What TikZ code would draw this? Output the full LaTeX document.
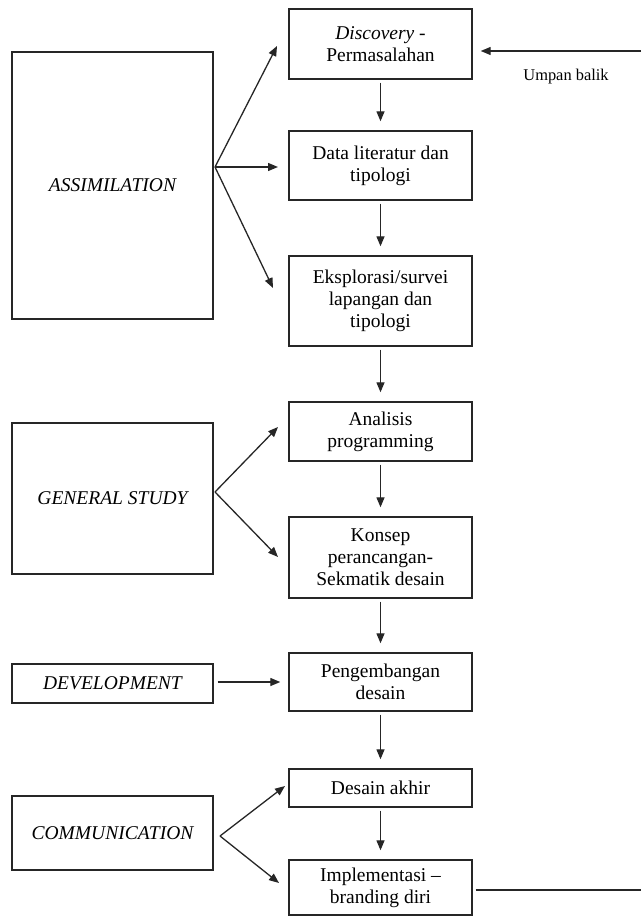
\documentclass[tikz,border=0pt]{standalone}
\usepackage{fontspec}
\setmainfont{Liberation Serif}
\usetikzlibrary{arrows.meta,calc}
\begin{document}
\begin{tikzpicture}[x=1pt,y=-1pt,
  box/.style={draw=black!85,line width=1.4pt,align=center,inner sep=0pt,
    font=\fontsize{19.5}{22}\selectfont},
  cbox/.style={box,minimum width=183pt},
  lbox/.style={box,minimum width=201pt,font=\fontsize{19.5}{22}\selectfont\itshape},
  arr/.style={line width=1.3pt,draw=black!85,-{Triangle[length=10pt,width=8pt]}},
  varr/.style={arr,shorten <=3pt,shorten >=9pt},
  fb/.style={line width=1.3pt,draw=black!85}]
\useasboundingbox (0,0) rectangle (641,917);
% centre column
\node[cbox,minimum height=70pt] (disc) at (380.5,44) {\textit{Discovery} -\\Permasalahan};
\node[cbox,minimum height=69pt] (data) at (380.5,165.5) {Data literatur dan\\tipologi};
\node[cbox,minimum height=90pt] (eks) at (380.5,301) {Eksplorasi/survei\\lapangan dan\\tipologi};
\node[cbox,minimum height=59pt] (anal) at (380.5,431.5) {Analisis\\programming};
\node[cbox,minimum height=81pt] (kons) at (380.5,557.5) {Konsep\\perancangan-\\Sekmatik desain};
\node[cbox,minimum height=58pt] (peng) at (380.5,682) {Pengembangan\\desain};
\node[cbox,minimum height=38pt] (akhir) at (380.5,788) {Desain akhir};
\node[cbox,minimum height=55pt] (impl) at (380.5,887.5) {Implementasi --\\branding diri};
% left column
\node[lbox,minimum height=267pt] (assim) at (112.5,185.5) {ASSIMILATION};
\node[lbox,minimum height=151pt] (gen) at (112.5,498.5) {GENERAL STUDY};
\node[lbox,minimum height=39pt] (dev) at (112.5,683.5) {DEVELOPMENT};
\node[lbox,minimum height=74pt] (comm) at (112.5,833) {COMMUNICATION};
% vertical arrows
\foreach \a/\b in {disc/data,data/eks,eks/anal,anal/kons,kons/peng,peng/akhir,akhir/impl}
  \draw[varr] (\a.south) -- (\b.north);
% fan coordinates
\coordinate (fa) at (215,167);
\coordinate (ta1) at (277,46);
\coordinate (ta2) at (278,167);
\coordinate (ta3) at (273,288);
\coordinate (fg) at (215,492);
\coordinate (tg1) at (278,427);
\coordinate (tg2) at (278,557);
\coordinate (fc) at (220,836);
\coordinate (tc1) at (285,786);
\coordinate (tc2) at (279,883);
\draw[arr] (fa) -- (ta1);
\draw[arr] (fa) -- (ta2);
\draw[arr] (fa) -- (ta3);
\draw[arr] (fg) -- (tg1);
\draw[arr] (fg) -- (tg2);
\draw[arr] (fc) -- (tc1);
\draw[arr] (fc) -- (tc2);
\draw[arr,shorten <=4pt,shorten >=8pt] (dev.east |- 0,682) -- (peng.west |- 0,682);
% feedback
\coordinate (fbtop) at (641,51);
\coordinate (fbbot) at (641,890);
\draw[arr,shorten >=8pt] (fbtop) -- (fbtop -| disc.east);
\draw[fb,shorten <=3pt] (impl.east |- fbbot) -- (fbbot);
\node[font=\fontsize{16.4}{18}\selectfont] (umpan) at (566,77) {Umpan balik};
\end{tikzpicture}
\end{document}
